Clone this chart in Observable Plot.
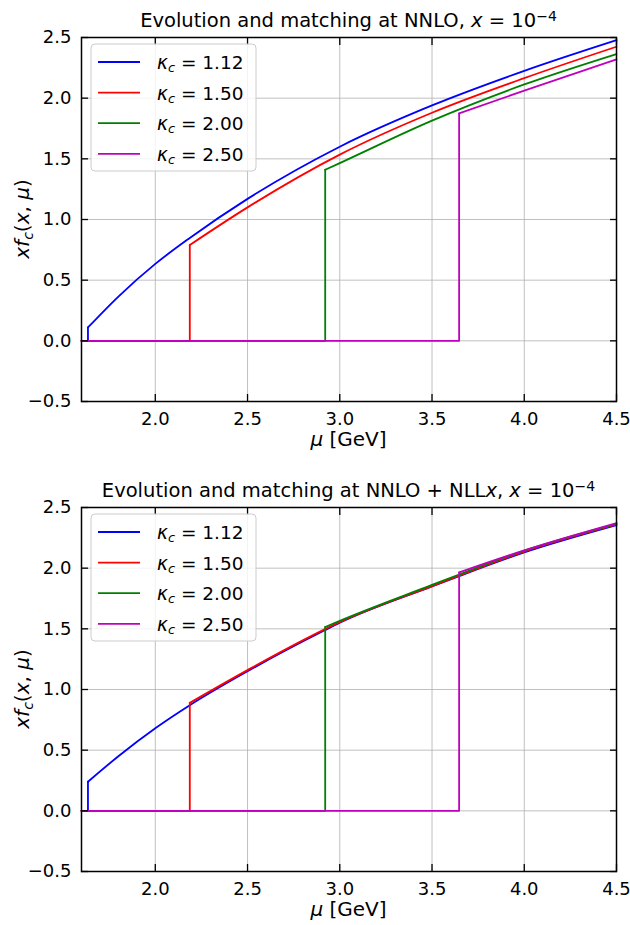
<!DOCTYPE html>
<html><head><meta charset="utf-8">
<script src="https://cdn.jsdelivr.net/npm/d3@7"></script>
<script src="https://cdn.jsdelivr.net/npm/@observablehq/plot@0.6"></script>
<style>
body{margin:0;background:#fff;font-family:"DejaVu Sans",sans-serif;}
#chart{width:630px;}
svg{display:block}
</style></head><body><div id="chart"></div>
<script>
// ---------- data ----------
const kappaLabels = ["1.12", "1.50", "2.00", "2.50"];
const seriesColors = ["#0000ff", "#ff0000", "#008000", "#bf00bf"];
const muStart = 1.6;
const xTicks = [2.0, 2.5, 3.0, 3.5, 4.0, 4.5];
const yTicks = [-0.5, 0.0, 0.5, 1.0, 1.5, 2.0, 2.5];

// Panel 1: NNLO
const nnloMu112 = [1.635, 1.8, 2.0, 2.187, 2.5, 3.0, 3.5, 4.0, 4.5];
const nnloF112  = [0.11, 0.365, 0.634, 0.848, 1.17, 1.6, 1.94, 2.225, 2.478];
const nnloMu150 = [2.187, 2.5, 3.0, 3.5, 4.0, 4.5];
const nnloF150  = [0.79, 1.10, 1.535, 1.88, 2.165, 2.424];
const nnloMu200 = [2.921, 3.0, 3.5, 4.0, 4.5];
const nnloF200  = [1.41, 1.465, 1.815, 2.113, 2.364];
const nnloMu250 = [3.647, 4.0, 4.5];
const nnloF250  = [1.875, 2.062, 2.32];

// Panel 2: NNLO + NLLx
const nllMu112 = [1.635, 1.8, 2.0, 2.187, 2.5, 2.921, 3.0, 3.5, 3.647, 4.0, 4.5];
const nllF112  = [0.24, 0.45, 0.68, 0.87, 1.15, 1.49, 1.55, 1.85, 1.935, 2.13, 2.355];
const nllMu150 = [2.187, 2.5, 3.0, 3.5, 4.0, 4.5];
const nllF150  = [0.89, 1.16, 1.555, 1.852, 2.137, 2.36];
const nllMu200 = [2.921, 3.0, 3.5, 3.647, 4.0, 4.5];
const nllF200  = [1.515, 1.566, 1.862, 1.948, 2.145, 2.366];
const nllMu250 = [3.647, 4.0, 4.5];
const nllF250  = [1.965, 2.147, 2.372];

const panels = [
  {title: "Evolution and matching at NNLO, ", extra: "", height: 470, marginBottom: 69,
   mus: [nnloMu112, nnloMu150, nnloMu200, nnloMu250], fs: [nnloF112, nnloF150, nnloF200, nnloF250]},
  {title: "Evolution and matching at NNLO + NLL", extra: "x", height: 455, marginBottom: 54,
   mus: [nllMu112, nllMu150, nllMu200, nllMu250], fs: [nllF112, nllF150, nllF200, nllF250]}
];

const fmt = d3.format(".1f");
const FONT = "DejaVu Sans";

function makePanel(p) {
  const marks = [
    Plot.gridX(xTicks, {stroke: "#b0b0b0", strokeOpacity: 1, strokeWidth: 0.8}),
    Plot.gridY(yTicks, {stroke: "#b0b0b0", strokeOpacity: 1, strokeWidth: 0.8})
  ];
  p.mus.forEach((mu, i) => {
    const f = p.fs[i];
    const step = [{mu: muStart, f: 0}, {mu: mu[0], f: 0}, {mu: mu[0], f: f[0]}];
    const curve = mu.map((m, j) => ({mu: m, f: f[j]}));
    marks.push(Plot.line(step, {x: "mu", y: "f", stroke: seriesColors[i], strokeWidth: 1.8}));
    marks.push(Plot.line(curve, {x: "mu", y: "f", stroke: seriesColors[i], strokeWidth: 1.8, curve: "monotone-x"}));
  });
  marks.push(Plot.frame({stroke: "black", strokeWidth: 1.5}));
  marks.push(Plot.axisX(xTicks, {anchor: "bottom", tickSize: -7, tickPadding: 17.5, strokeWidth: 1.3, tickFormat: fmt, label: null, fontSize: 18}));
  marks.push(Plot.axisX(xTicks, {anchor: "top", tickSize: -7, strokeWidth: 1.3, tickFormat: () => "", label: null}));
  marks.push(Plot.axisY(yTicks, {anchor: "left", tickSize: -7, tickPadding: 17, strokeWidth: 1.3, tickFormat: fmt, label: null, fontSize: 18}));
  marks.push(Plot.axisY(yTicks, {anchor: "right", tickSize: -7, strokeWidth: 1.3, tickFormat: () => "", label: null}));

  const svg = Plot.plot({
    width: 630, height: p.height,
    marginLeft: 81, marginRight: 14, marginTop: 37, marginBottom: p.marginBottom,
    x: {domain: [1.6, 4.5]},
    y: {domain: [-0.5, 2.5]},
    style: {fontFamily: FONT, fontSize: "18px", color: "black", background: "white"},
    marks
  });

  const s = d3.select(svg);
  const cx = (81 + 616) / 2;
  // title
  const t = s.append("text").attr("x", cx).attr("y", 27).attr("text-anchor", "middle")
    .attr("font-family", FONT).attr("font-size", 19.5).attr("fill", "black");
  t.append("tspan").text(p.title);
  if (p.extra) { t.append("tspan").attr("font-style", "italic").text(p.extra); t.append("tspan").text(", "); }
  t.append("tspan").attr("font-style", "italic").text("x");
  t.append("tspan").text(" = 10");
  t.append("tspan").attr("dy", "-0.42em").attr("font-size", "0.72em").text("−4");

  // y label
  const yl = s.append("text").attr("transform", "translate(29,219) rotate(-90)").attr("text-anchor", "middle")
    .attr("font-family", FONT).attr("font-size", 20).attr("fill", "black");
  yl.append("tspan").attr("font-style", "italic").text("xf");
  yl.append("tspan").attr("font-style", "italic").attr("font-size", "0.7em").attr("dy", "0.25em").text("c");
  yl.append("tspan").attr("dy", "-0.175em").text("(");
  yl.append("tspan").attr("font-style", "italic").text("x");
  yl.append("tspan").text(", ");
  yl.append("tspan").attr("font-style", "italic").text("μ");
  yl.append("tspan").text(")");

  // x label
  const xl = s.append("text").attr("x", cx).attr("y", 446).attr("text-anchor", "middle")
    .attr("font-family", FONT).attr("font-size", 20).attr("fill", "black");
  xl.append("tspan").attr("font-style", "italic").text("μ");
  xl.append("tspan").text(" [GeV]");

  // legend
  const lg = s.append("g");
  lg.append("rect").attr("x", 91).attr("y", 44).attr("width", 165).attr("height", 127).attr("rx", 4)
    .attr("fill", "white").attr("fill-opacity", 0.8).attr("stroke", "#cccccc").attr("stroke-width", 1);
  kappaLabels.forEach((k, i) => {
    const y = 62 + 30.6 * i;
    lg.append("line").attr("x1", 98).attr("x2", 140).attr("y1", y).attr("y2", y)
      .attr("stroke", seriesColors[i]).attr("stroke-width", 1.8);
    const tx = lg.append("text").attr("x", 157).attr("y", y + 7).attr("text-anchor", "start")
      .attr("font-family", FONT).attr("font-size", 18.5).attr("fill", "black");
    tx.append("tspan").attr("font-style", "italic").text("κ");
    tx.append("tspan").attr("font-style", "italic").attr("font-size", "0.7em").attr("dy", "0.25em").text("c");
    tx.append("tspan").attr("dy", "-0.175em").text(" = " + k);
  });
  return svg;
}

const root = document.getElementById("chart");
panels.forEach(p => root.appendChild(makePanel(p)));
</script></body></html>
